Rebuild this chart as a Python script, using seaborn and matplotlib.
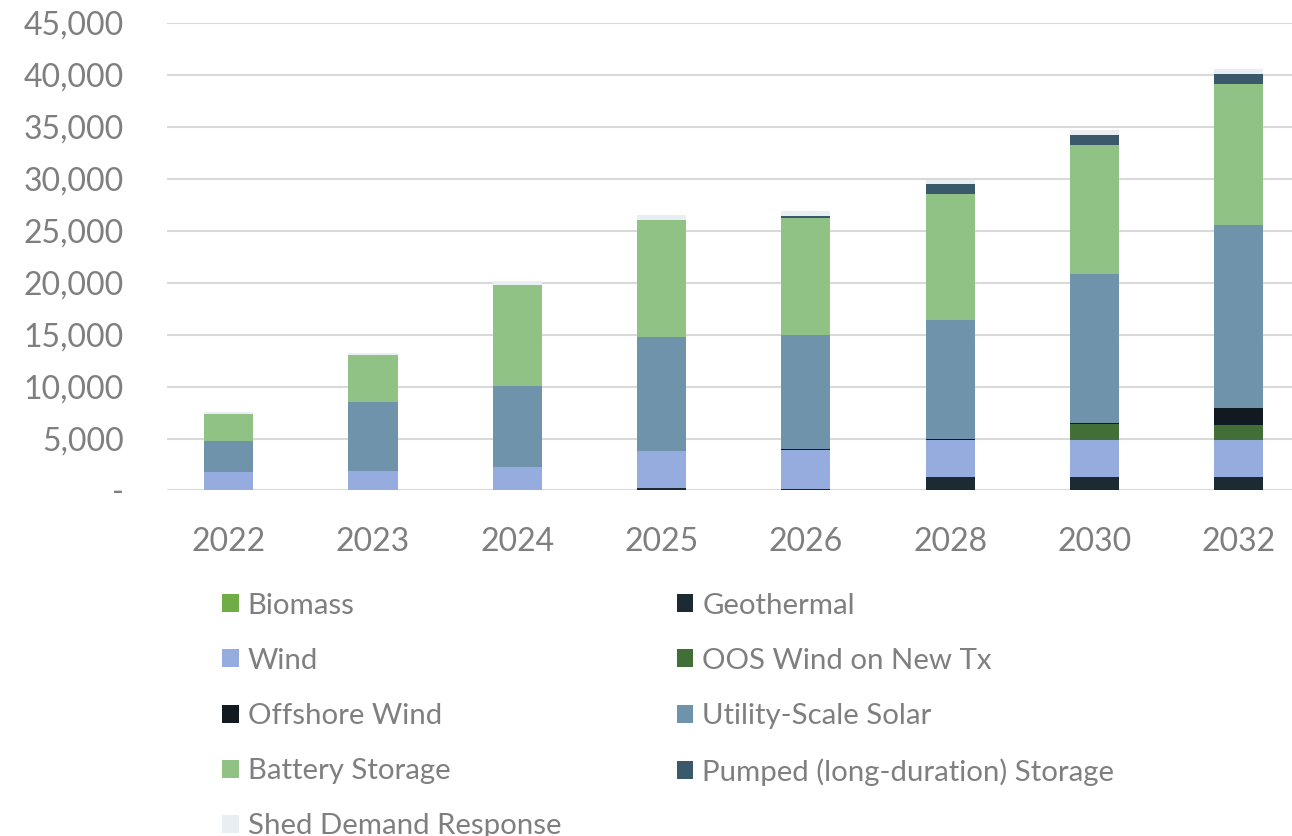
import numpy as np
import pandas as pd
import matplotlib
matplotlib.use("Agg")
import matplotlib.pyplot as plt
import seaborn as sns
from matplotlib.patches import Patch
from matplotlib.ticker import FuncFormatter

years = ["2022", "2023", "2024", "2025", "2026", "2028", "2030", "2032"]
biomass = [0, 0, 0, 0, 0, 0, 0, 0]
geothermal = [0, 60, 0, 200, 150, 1270, 1270, 1270]
wind = [1785, 1820, 2270, 3610, 3750, 3600, 3550, 3550]
oos_wind = [0, 0, 0, 0, 0, 0, 1570, 1530]
offshore_wind = [0, 0, 0, 0, 80, 100, 150, 1610]
utility_solar = [3025, 6590, 7750, 10970, 10960, 11450, 14290, 17590]
battery = [2600, 4610, 9780, 11290, 11330, 12100, 12410, 13580]
pumped = [0, 0, 0, 0, 150, 1000, 1000, 1000]
shed_dr = [100, 120, 320, 450, 460, 390, 480, 460]

series_names = ["Biomass", "Geothermal", "Wind", "OOS Wind on New Tx", "Offshore Wind",
                "Utility-Scale Solar", "Battery Storage", "Pumped (long-duration) Storage",
                "Shed Demand Response"]
series_vals = [biomass, geothermal, wind, oos_wind, offshore_wind, utility_solar,
               battery, pumped, shed_dr]
colors = ["#70AD47", "#1B2A33", "#97ACDE", "#426E38", "#111A20", "#6F93AA",
          "#90C285", "#3A5A6B", "#E8EEF1"]

sns.set_theme(style="white")
plt.rcParams["font.family"] = ["Lato", "DejaVu Sans"]

fig = plt.figure(figsize=(12.92, 8.36), dpi=100)
ax = fig.add_axes([0.129, 0.4133, 0.871, 0.5592])

bottom = np.zeros(len(years))
for name, vals, col in zip(series_names, series_vals, colors):
    df = pd.DataFrame({"year": years, "value": vals})
    sns.barplot(data=df, x="year", y="value", order=years, color=col,
                bottom=bottom.copy(), width=0.34, errorbar=None,
                linewidth=0, saturation=1, ax=ax)
    bottom += np.array(vals, dtype=float)

text_col = "#7F7F7F"
ax.set_ylim(0, 45000)
ax.set_xlim(-0.43, 7.37)
ax.set_yticks(np.arange(0, 45001, 5000))
ax.yaxis.set_major_formatter(FuncFormatter(lambda v, p: "-" if v == 0 else f"{int(v):,}"))
ax.grid(axis="y", color="#D9D9D9", linewidth=1.5)
ax.set_axisbelow(True)
for s in ax.spines.values():
    s.set_visible(False)
ax.set_xlabel("")
ax.set_ylabel("")
ax.tick_params(axis="both", length=0, labelsize=23, colors=text_col)
ax.tick_params(axis="y", pad=31)
ax.tick_params(axis="x", pad=26)

handles = {n: Patch(facecolor=c, edgecolor="none") for n, c in zip(series_names, colors)}
col1 = ["Biomass", "Wind", "Offshore Wind", "Battery Storage", "Shed Demand Response"]
col2 = ["Geothermal", "OOS Wind on New Tx", "Utility-Scale Solar", "Pumped (long-duration) Storage"]
common = dict(frameon=False, fontsize=21.2, labelcolor=text_col, handlelength=0.56,
              handleheight=0.56, handletextpad=0.3, labelspacing=0.99, borderpad=0,
              borderaxespad=0)
leg1 = fig.legend([handles[n] for n in col1], col1, loc="upper left",
                  bbox_to_anchor=(0.172, 0.291), **common)
leg2 = fig.legend([handles[n] for n in col2], col2, loc="upper left",
                  bbox_to_anchor=(0.524, 0.291), **common)

fig.savefig("out.png", dpi=100)
